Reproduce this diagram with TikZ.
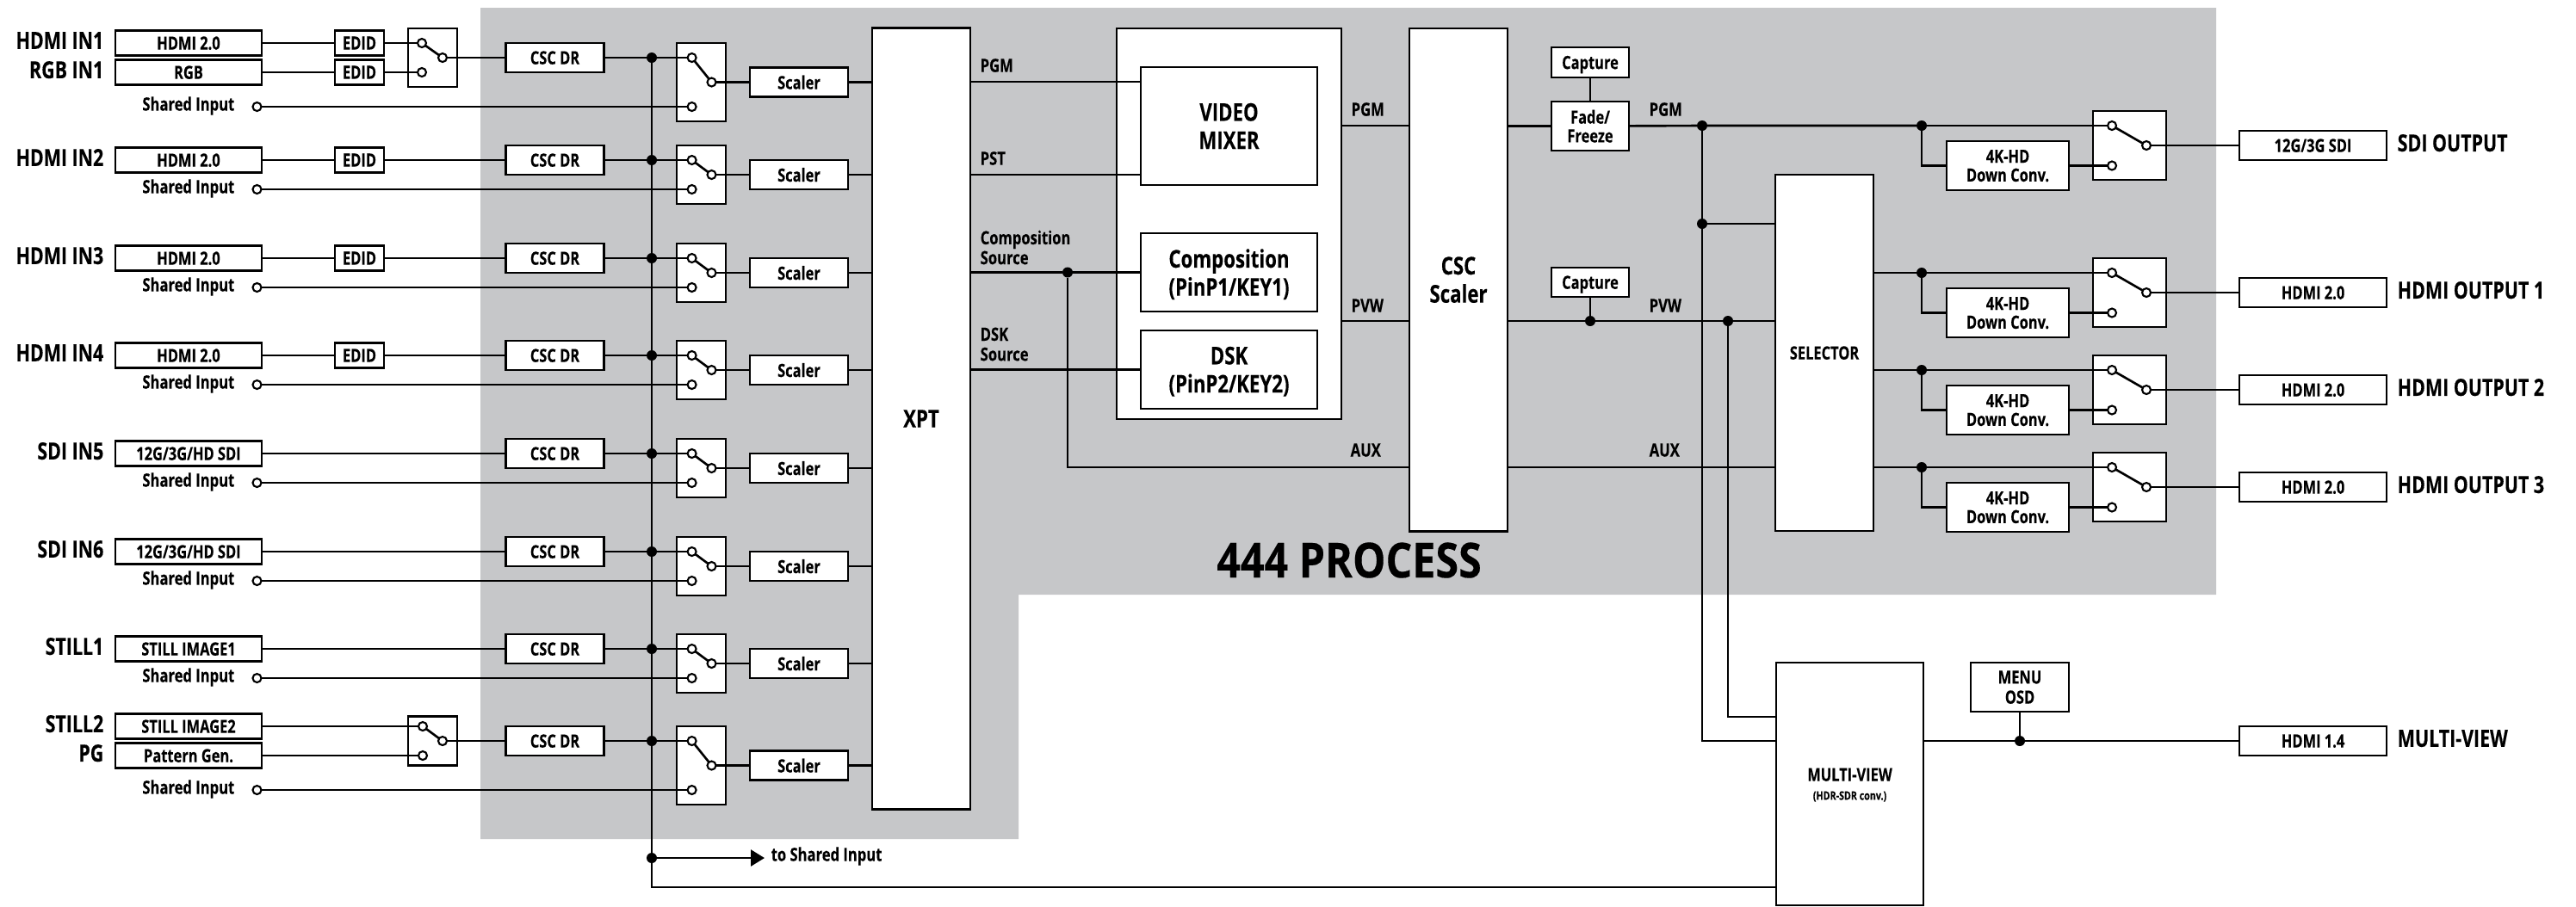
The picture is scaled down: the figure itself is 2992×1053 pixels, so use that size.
\documentclass[tikz,border=0pt]{standalone}
\usepackage{fontspec}
\setmainfont[FakeStretch=0.78, BoldFeatures={FakeBold=0.25}]{Open Sans}
\newfontfamily\widefont[FakeStretch=0.86, BoldFeatures={FakeBold=0.25}]{Open Sans}
\usetikzlibrary{arrows.meta}
\definecolor{procgray}{HTML}{C6C7C9}
\tikzset{
  blk/.style={draw, fill=white, line width=0.75pt, inner sep=0pt, outer sep=0pt, align=center,
    text depth=0pt, font=\fontsize{6}{6.2}\selectfont\bfseries},
  inbox/.style={blk, minimum width=1.70cm, minimum height=0.29cm},
  edidbox/.style={blk, minimum width=0.57cm, minimum height=0.29cm},
  cscbox/.style={blk, minimum width=1.14cm, minimum height=0.34cm},
  conv/.style={blk, minimum width=1.42cm, minimum height=0.57cm},
  outbox/.style={blk, minimum width=1.71cm, minimum height=0.34cm},
  pin/.style={circle, draw, fill=white, line width=0.6pt, inner sep=0pt, outer sep=0pt, minimum size=0.10cm},
  jdot/.style={circle, fill=black, inner sep=0pt, outer sep=0pt, minimum size=0.12cm},
  bigname/.style={inner sep=0pt, text depth=0pt, font=\fontsize{7.8}{9}\selectfont\bfseries},
  bigbox/.style={blk, font=\fontsize{8.1}{9.3}\selectfont\bfseries},
  tag/.style={inner sep=0pt, anchor=west, align=left, font=\fontsize{6.05}{6.6}\selectfont\bfseries},
  wire/.style={line width=0.75pt}
}
\begin{document}
\begin{tikzpicture}[x=0.01cm, y=-0.01cm]
\useasboundingbox (0,0) rectangle (2992,1053);
% 444 area
\fill[procgray] (558,9) -- (2574,9) -- (2574,691) -- (1183,691) -- (1183,975) -- (558,975) -- cycle;
\node[inner sep=0pt, font=\fontsize{16}{18}\selectfont\widefont\bfseries] (proc) at (1567,651) {444 PROCESS};
% main blocks
\node[bigbox, minimum width=1.14cm, minimum height=9.07cm] (xpt) at (1070,486.5) {XPT};
\node[blk, minimum width=2.61cm, minimum height=4.54cm] (mixer) at (1427.5,260) {};
\node[bigbox, minimum width=2.05cm, minimum height=1.37cm] (video) at (1427.5,146.5) {VIDEO\\MIXER};
\node[bigbox, minimum width=2.05cm, minimum height=0.91cm] (comp) at (1427.5,316.5) {Composition\\(PinP1/KEY1)};
\node[bigbox, minimum width=2.05cm, minimum height=0.91cm] (dsk) at (1427.5,429.5) {DSK\\(PinP2/KEY2)};
\node[bigbox, minimum width=1.14cm, minimum height=5.84cm] (csc) at (1694,325) {CSC\\Scaler};
\node[blk, minimum width=0.90cm, minimum height=0.35cm] (cap1) at (1847,72.5) {Capture};
\node[blk, minimum width=0.90cm, minimum height=0.57cm] (fade) at (1847,146.5) {Fade/\\Freeze};
\node[blk, minimum width=0.90cm, minimum height=0.34cm] (cap2) at (1847,328) {Capture};
\node[blk, minimum width=1.14cm, minimum height=4.14cm] (sel) at (2119,410) {SELECTOR};
\node[blk, minimum width=1.71cm, minimum height=2.82cm] (mview) at (2148.5,911) {MULTI-VIEW\\{\fontsize{3.9}{4.6}\selectfont(HDR-SDR conv.)}};
\node[blk, minimum width=1.14cm, minimum height=0.57cm] (menu) at (2346,798.5) {MENU\\[0.4pt]OSD};
% input rows: csc, bus, switch, scaler
\foreach \n/\y/\d in {1/67/57, 2/186/34, 3/300/34, 4/413/34, 5/527/34, 6/641/34, 7/754/34, 8/861/57} {
  \node[cscbox] (csc\n) at (644.5,\y) {CSC DR};
  \node[jdot] (bus\n) at (757,\y) {};
  \node[blk, minimum width=0.57cm, minimum height={(\d+34)*0.01cm}] (sw\n) at (814.5,\y+\d/2) {};
  \node[pin] (swa\n) at (803.6,\y) {};
  \node[pin] (swb\n) at (803.6,\y+\d) {};
  \node[pin] (swc\n) at (826.5,\y+\d/2) {};
  \node[cscbox] (scaler\n) at (928,\y+\d/2) {Scaler};
  \node[pin] (share\n) at (298.5,\y+\d) {};
  \node[tag, anchor=east] (sharetxt\n) at (273,\y+\d-1) {Shared Input};
  \draw[wire] (csc\n) -- (bus\n) -- (swa\n);
  \draw[wire] (swa\n) -- (swc\n);
  \draw[wire] (swc\n) -- (scaler\n);
  \draw[wire] (scaler\n) -- (xpt.west |- scaler\n);
  \draw[wire] (share\n) -- (swb\n);
}
% single inputs
\foreach \n/\y/\lab/\src in {2/186/HDMI IN2/HDMI 2.0, 3/300/HDMI IN3/HDMI 2.0, 4/413/HDMI IN4/HDMI 2.0, 5/527/SDI IN5/{12G/3G/HD SDI}, 6/641/SDI IN6/{12G/3G/HD SDI}, 7/754/STILL1/STILL IMAGE1} {
  \node[inbox] (in\n) at (219,\y) {\src};
  \node[bigname, anchor=east] (lab\n) at (121,\y-3) {\lab};
}
\foreach \n/\y in {2/186, 3/300, 4/413} {
  \node[edidbox] (edid\n) at (417.5,\y) {EDID};
  \draw[wire] (in\n) -- (edid\n);
  \draw[wire] (edid\n) -- (csc\n);
}
\foreach \n in {5,6,7} \draw[wire] (in\n) -- (csc\n);
% dual inputs, row 1
\node[inbox] (in1a) at (219,50) {HDMI 2.0};
\node[inbox] (in1b) at (219,84) {RGB};
\node[bigname, anchor=east] (lab1a) at (121,47) {HDMI IN1};
\node[bigname, anchor=east] (lab1b) at (121,81) {RGB IN1};
\node[edidbox] (edid1a) at (417.5,50) {EDID};
\node[edidbox] (edid1b) at (417.5,84) {EDID};
\node[blk, minimum width=0.57cm, minimum height=0.68cm] (pre1) at (502.5,67) {};
\node[pin] (pre1a) at (490,50) {};
\node[pin] (pre1b) at (490,84) {};
\node[pin] (pre1c) at (514,67) {};
\draw[wire] (in1a) -- (edid1a);
\draw[wire] (in1b) -- (edid1b);
\draw[wire] (edid1a) -- (pre1a);
\draw[wire] (edid1b) -- (pre1b);
\draw[wire] (pre1a) -- (pre1c);
\draw[wire] (pre1c) -- (csc1);
% dual inputs, row 8
\node[inbox] (in8a) at (219,844) {STILL IMAGE2};
\node[inbox] (in8b) at (219,878) {Pattern Gen.};
\node[bigname, anchor=east] (lab8a) at (121,841) {STILL2};
\node[bigname, anchor=east] (lab8b) at (121,875) {PG};
\node[blk, minimum width=0.57cm, minimum height=0.57cm] (pre8) at (502.5,861) {};
\node[pin] (pre8a) at (491,844) {};
\node[pin] (pre8b) at (491,878) {};
\node[pin] (pre8c) at (514,861) {};
\draw[wire] (in8a) -- (pre8a);
\draw[wire] (in8b) -- (pre8b);
\draw[wire] (pre8a) -- (pre8c);
\draw[wire] (pre8c) -- (csc8);
% bus, to shared input
\node[jdot] (bus9) at (757,997) {};
\node[inner sep=0pt, outer sep=0pt, minimum width=0pt] (tip) at (888,997) {};
\node[tag] (toshare) at (895,995) {to Shared Input};
\coordinate (mvbus) at (mview.west |- 0,1031);
\draw[wire] (bus1) -- (bus9) |- (mvbus);
\draw[wire, -{Triangle[length=0.16cm, width=0.19cm]}] (bus9) -- (tip);
% xpt to mixer
\coordinate (vmpgm) at (video.west |- 0,95);
\coordinate (vmpst) at (video.west |- 0,203);
\node[jdot] (jcomp) at (1240,316.5) {};
\draw[wire] (xpt.east |- vmpgm) -- (vmpgm);
\draw[wire] (xpt.east |- vmpst) -- (vmpst);
\draw[wire] (xpt.east |- comp.west) -- (jcomp) -- (comp);
\draw[wire] (xpt.east |- dsk.west) -- (dsk);
\node[tag] (tpgm) at (1138,76) {PGM};
\node[tag] (tpst) at (1138,184) {PST};
\node[tag] (tcomp) at (1138,287.5) {Composition\\Source};
\node[tag] (tdsk) at (1138,400) {DSK\\Source};
% mixer to scaler
\coordinate (cscpgm) at (csc.west |- 0,146);
\coordinate (cscpvw) at (csc.west |- 0,373);
\coordinate (cscaux) at (csc.west |- 0,543);
\draw[wire] (mixer.east |- cscpgm) -- (cscpgm);
\draw[wire] (mixer.east |- cscpvw) -- (cscpvw);
\draw[wire] (jcomp) |- (cscaux);
\node[tag] (tpgm2) at (1569,127) {PGM};
\node[tag] (tpvw2) at (1569,355) {PVW};
\node[tag] (taux2) at (1568,523) {AUX};
% scaler to selector
\node[jdot] (jpgm) at (1977,146) {};
\node[jdot] (jsel) at (1977,260) {};
\node[jdot] (jcap) at (1847,373) {};
\node[jdot] (jpvw) at (2007,373) {};
\coordinate (mvpvw) at (mview.west |- 0,833);
\coordinate (mvpgm) at (mview.west |- 0,861);
\draw[wire] (csc.east |- fade.west) -- (fade);
\draw[wire] (cap1) -- (fade);
\draw[wire] (cap2) -- (jcap);
\draw[wire] (csc.east |- jcap) -- (jcap) -- (jpvw) -- (sel.west |- jpvw);
\draw[wire] (jpgm) -- (jsel) -- (jsel |- mvpgm) -- (mvpgm);
\draw[wire] (jsel) -- (sel.west |- jsel);
\draw[wire] (jpvw) |- (mvpvw);
\draw[wire] (csc.east |- cscaux) -- (sel.west |- cscaux);
\node[tag] (tpgm3) at (1915,127) {PGM};
\node[tag] (tpvw3) at (1915,355) {PVW};
\node[tag] (taux3) at (1915,523) {AUX};
% outputs
\foreach \n/\y/\lab/\src in {0/146/SDI OUTPUT/{12G/3G SDI}, 1/317/HDMI OUTPUT 1/HDMI 2.0, 2/430/HDMI OUTPUT 2/HDMI 2.0, 3/543/HDMI OUTPUT 3/HDMI 2.0} {
  \node[jdot] (jout\n) at (2232,\y) {};
  \node[conv] (conv\n) at (2332,\y+46.5) {4K-HD\\Down Conv.};
  \node[blk, minimum width=0.85cm, minimum height=0.80cm] (swo\n) at (2473.5,\y+23) {};
  \node[pin] (swoa\n) at (2453,\y) {};
  \node[pin] (swob\n) at (2453,\y+46.5) {};
  \node[pin] (swoc\n) at (2493,\y+23) {};
  \node[outbox] (out\n) at (2686.5,\y+23) {\src};
  \node[bigname, anchor=west] (olab\n) at (2784,\y+20) {\lab};
  \draw[wire] (jout\n) -- (swoa\n);
  \draw[wire] (jout\n) |- (conv\n);
  \draw[wire] (conv\n) -- (swob\n);
  \draw[wire] (swoa\n) -- (swoc\n);
  \draw[wire] (swoc\n) -- (out\n);
}
\draw[wire] (fade) -- (jpgm) -- (jout0);
\foreach \n in {1,2,3} \draw[wire] (sel.east |- jout\n) -- (jout\n);
% multi-view out
\node[jdot] (jmenu) at (2346,861) {};
\node[outbox] (outmv) at (2686.5,861) {HDMI 1.4};
\node[bigname, anchor=west] (olabmv) at (2784,858) {MULTI-VIEW};
\draw[wire] (mvpgm -| mview.east) -- (jmenu) -- (outmv);
\draw[wire] (menu) -- (jmenu);
\end{tikzpicture}
\end{document}
